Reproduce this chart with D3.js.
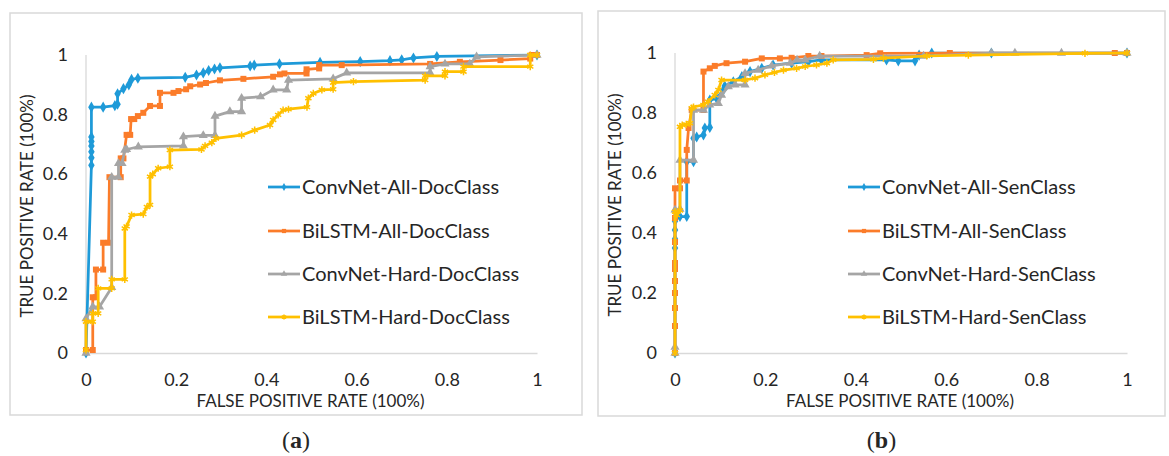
<!DOCTYPE html>
<html>
<head>
<meta charset="utf-8">
<title>ROC curves</title>
<script src="https://cdn.jsdelivr.net/npm/d3@7/dist/d3.min.js"></script>
<style>
  body { margin: 0; background: #fff; }
  svg { display: block; }
  text { font-family: Lato, "Open Sans", sans-serif; fill: #262626; }
</style>
</head>
<body>
<svg id="chart" width="1169" height="456"></svg>
<script>
// tick labels
const tickValues = [0, 0.2, 0.4, 0.6, 0.8, 1];

// (a) document classification, [fpr, tpr]
const convAllDoc = [[0,0],[0.012,0.63],[0.012,0.655],[0.012,0.675],[0.012,0.695],[0.012,0.71],[0.012,0.725],[0.012,0.825],[0.038,0.825],[0.064,0.83],[0.07,0.835],[0.07,0.87],[0.083,0.887],[0.095,0.9],[0.101,0.918],[0.115,0.922],[0.22,0.925],[0.245,0.933],[0.26,0.94],[0.272,0.948],[0.285,0.953],[0.297,0.957],[0.364,0.963],[0.373,0.966],[0.429,0.97],[0.519,0.975],[0.608,0.978],[0.674,0.981],[0.70,0.984],[0.726,0.99],[0.778,0.995],[1,1]];
const bilstmAllDoc = [[0,0.01],[0.015,0.01],[0.015,0.187],[0.022,0.187],[0.022,0.28],[0.038,0.28],[0.038,0.37],[0.05,0.37],[0.052,0.59],[0.077,0.59],[0.077,0.653],[0.083,0.653],[0.09,0.732],[0.098,0.732],[0.1,0.785],[0.107,0.785],[0.115,0.795],[0.127,0.806],[0.142,0.829],[0.164,0.829],[0.164,0.873],[0.194,0.873],[0.205,0.879],[0.222,0.885],[0.231,0.895],[0.253,0.901],[0.266,0.906],[0.297,0.915],[0.349,0.92],[0.415,0.927],[0.43,0.935],[0.44,0.938],[0.489,0.938],[0.489,0.952],[0.517,0.955],[0.517,0.966],[0.567,0.966],[0.763,0.97],[0.829,0.977],[0.919,0.983],[0.985,0.988],[0.988,1.0],[1,1]];
const convHardDoc = [[0,0],[0,0.115],[0.015,0.155],[0.03,0.155],[0.057,0.22],[0.057,0.59],[0.072,0.59],[0.072,0.636],[0.08,0.636],[0.086,0.681],[0.09,0.683],[0.116,0.692],[0.216,0.695],[0.216,0.726],[0.26,0.73],[0.286,0.73],[0.286,0.795],[0.319,0.81],[0.345,0.81],[0.345,0.855],[0.387,0.86],[0.415,0.883],[0.445,0.883],[0.449,0.916],[0.548,0.92],[0.578,0.94],[0.763,0.94],[0.763,0.961],[0.796,0.97],[0.851,0.97],[0.866,0.994],[1,1]];
const bilstmHardDoc = [[0,0.01],[0,0.105],[0.015,0.105],[0.015,0.133],[0.027,0.133],[0.027,0.217],[0.057,0.217],[0.057,0.247],[0.086,0.247],[0.086,0.418],[0.09,0.425],[0.101,0.463],[0.127,0.466],[0.135,0.49],[0.142,0.497],[0.142,0.592],[0.148,0.6],[0.16,0.62],[0.186,0.625],[0.186,0.681],[0.256,0.683],[0.264,0.695],[0.279,0.706],[0.288,0.72],[0.345,0.731],[0.374,0.748],[0.408,0.765],[0.415,0.782],[0.426,0.799],[0.437,0.815],[0.449,0.818],[0.49,0.825],[0.493,0.855],[0.504,0.871],[0.523,0.883],[0.548,0.885],[0.548,0.907],[0.593,0.911],[0.752,0.916],[0.752,0.93],[0.796,0.93],[0.796,0.944],[0.837,0.944],[0.837,0.961],[0.985,0.961],[0.985,1.0],[1,1]];

// (b) sentence classification
const convAllSen = [[0,0],[0,0.35],[0,0.38],[0,0.41],[0,0.44],[0.004,0.455],[0.011,0.455],[0.026,0.455],[0.026,0.638],[0.041,0.638],[0.041,0.716],[0.048,0.72],[0.063,0.727],[0.066,0.75],[0.077,0.752],[0.077,0.843],[0.092,0.849],[0.107,0.877],[0.11,0.89],[0.129,0.904],[0.148,0.921],[0.166,0.938],[0.192,0.949],[0.217,0.96],[0.258,0.966],[0.295,0.971],[0.324,0.977],[0.468,0.977],[0.494,0.974],[0.531,0.974],[0.54,0.993],[0.568,1.0],[0.70,1.0],[1,1]];
const bilstmAllSen = [[0,0],[0,0.09],[0,0.15],[0,0.2],[0,0.24],[0,0.28],[0,0.3],[0,0.37],[0,0.45],[0,0.549],[0.011,0.549],[0.011,0.575],[0.026,0.575],[0.026,0.677],[0.03,0.75],[0.037,0.81],[0.063,0.81],[0.063,0.938],[0.077,0.949],[0.088,0.957],[0.114,0.966],[0.155,0.971],[0.192,0.982],[0.232,0.982],[0.258,0.984],[0.295,0.99],[0.324,0.99],[0.424,0.993],[0.454,0.999],[0.608,1.0],[0.973,1.0],[1,1]];
const convHardSen = [[0,0],[0,0.02],[0,0.477],[0.011,0.48],[0.011,0.643],[0.041,0.643],[0.041,0.81],[0.063,0.81],[0.077,0.827],[0.096,0.832],[0.103,0.86],[0.118,0.888],[0.133,0.894],[0.155,0.894],[0.155,0.932],[0.184,0.943],[0.214,0.957],[0.255,0.966],[0.27,0.977],[0.288,0.977],[0.32,0.99],[0.55,0.99],[0.70,1.0],[0.752,1.0],[0.855,1.0],[1,1]];
const bilstmHardSen = [[0,0],[0,0.471],[0.004,0.46],[0.011,0.475],[0.011,0.754],[0.016,0.76],[0.025,0.762],[0.033,0.766],[0.037,0.816],[0.041,0.82],[0.063,0.827],[0.073,0.838],[0.088,0.86],[0.096,0.877],[0.103,0.91],[0.155,0.91],[0.177,0.916],[0.199,0.927],[0.22,0.935],[0.24,0.943],[0.269,0.949],[0.288,0.955],[0.313,0.96],[0.336,0.966],[0.35,0.977],[0.439,0.979],[0.461,0.983],[0.557,0.99],[0.649,0.993],[0.907,0.999],[1,1]];

const docNames = ["ConvNet-All-DocClass", "BiLSTM-All-DocClass", "ConvNet-Hard-DocClass", "BiLSTM-Hard-DocClass"];
const senNames = ["ConvNet-All-SenClass", "BiLSTM-All-SenClass", "ConvNet-Hard-SenClass", "BiLSTM-Hard-SenClass"];

const colors = ["#1e9ad8", "#fb7c2a", "#a5a5a5", "#ffc000"];
const symbols = [d3.symbolDiamond, d3.symbolSquare, d3.symbolTriangle, d3.symbolAsterisk];

const panels = [
  { tag: "a", box: [10, 13, 572, 402], x: [86, 537], y: [353, 55], yTitleX: 27,
    legendX: 268, legendY: [187, 231, 274, 317], names: docNames,
    series: [convAllDoc, bilstmAllDoc, convHardDoc, bilstmHardDoc] },
  { tag: "b", box: [598, 11, 567, 405], x: [675, 1127], y: [353, 53], yTitleX: 615,
    legendX: 848, legendY: [187, 231, 274, 317], names: senNames,
    series: [convAllSen, bilstmAllSen, convHardSen, bilstmHardSen] }
];

const svg = d3.select("#chart");

function marker(g, i, size) {
  const path = d3.symbol().type(symbols[i]).size(size)();
  if (i === 3) {
    g.append("path").attr("d", path).attr("fill", "none")
      .attr("stroke", colors[i]).attr("stroke-width", 1.5);
  } else {
    g.append("path").attr("d", path).attr("fill", colors[i]);
  }
}

panels.forEach(p => {
  svg.append("rect")
    .attr("x", p.box[0]).attr("y", p.box[1])
    .attr("width", p.box[2]).attr("height", p.box[3])
    .attr("fill", "#fff").attr("stroke", "#d9d9d9").attr("stroke-width", 1.5);

  const xScale = d3.scaleLinear().domain([0, 1]).range(p.x);
  const yScale = d3.scaleLinear().domain([0, 1]).range(p.y);

  const xAxis = svg.append("g")
    .attr("transform", `translate(0,${p.y[0]})`)
    .call(d3.axisBottom(xScale).tickValues(tickValues).tickSize(0).tickPadding(20).tickFormat(d3.format("~g")));
  const yAxis = svg.append("g")
    .attr("transform", `translate(${p.x[0]},0)`)
    .call(d3.axisLeft(yScale).tickValues(tickValues).tickSize(0).tickPadding(18).tickFormat(d3.format("~g")));
  [xAxis, yAxis].forEach(a => {
    a.select(".domain").attr("stroke", "#d9d9d9").attr("stroke-width", 1.3);
    a.selectAll("text").style("font-size", "18px").attr("font-family", null).attr("fill", "#262626");
  });
  yAxis.select(".domain").attr("d", `M0,${p.y[0]}V${p.y[1]}`);
  xAxis.selectAll("text").attr("dy", "0.7em");

  svg.append("text")
    .attr("x", (p.x[0] + p.x[1]) / 2 - 1).attr("y", 407)
    .attr("text-anchor", "middle").style("font-size", "17px")
    .text("FALSE POSITIVE RATE (100%)");
  svg.append("text")
    .attr("transform", `translate(${p.yTitleX},${(p.y[0] + p.y[1]) / 2 + 2}) rotate(-90)`)
    .attr("text-anchor", "middle").attr("dy", "0.35em").style("font-size", "17px")
    .text("TRUE POSITIVE RATE (100%)");

  const line = d3.line().x(d => xScale(d[0])).y(d => yScale(d[1]));

  p.series.forEach((data, i) => {
    svg.append("path")
      .attr("d", line(data))
      .attr("fill", "none").attr("stroke", colors[i])
      .attr("stroke-width", 2.75).attr("stroke-linejoin", "round");
    svg.append("g").selectAll("g")
      .data(data).enter().append("g")
      .attr("transform", d => `translate(${xScale(d[0])},${yScale(d[1])})`)
      .each(function () { marker(d3.select(this), i, 36); });
  });

  const legend = svg.append("g");
  p.names.forEach((name, i) => {
    const ly = p.legendY[i];
    legend.append("line")
      .attr("x1", p.legendX).attr("x2", p.legendX + 32)
      .attr("y1", ly).attr("y2", ly)
      .attr("stroke", colors[i]).attr("stroke-width", 2.75);
    marker(legend.append("g").attr("transform", `translate(${p.legendX + 16},${ly})`), i, 18);
    legend.append("text")
      .attr("x", p.legendX + 34).attr("y", ly).attr("dy", "0.35em")
      .style("font-size", "20px").text(name);
  });

  const cap = svg.append("text")
    .attr("x", (p.box[0] + p.box[0] + p.box[2]) / 2).attr("y", 448)
    .attr("text-anchor", "middle")
    .style("font-family", "'Liberation Serif', serif").style("font-size", "24px");
  cap.append("tspan").text("(");
  cap.append("tspan").attr("font-weight", "bold").style("font-family", "'Liberation Serif', serif").text(p.tag);
  cap.append("tspan").text(")");
});
</script>
</body>
</html>
